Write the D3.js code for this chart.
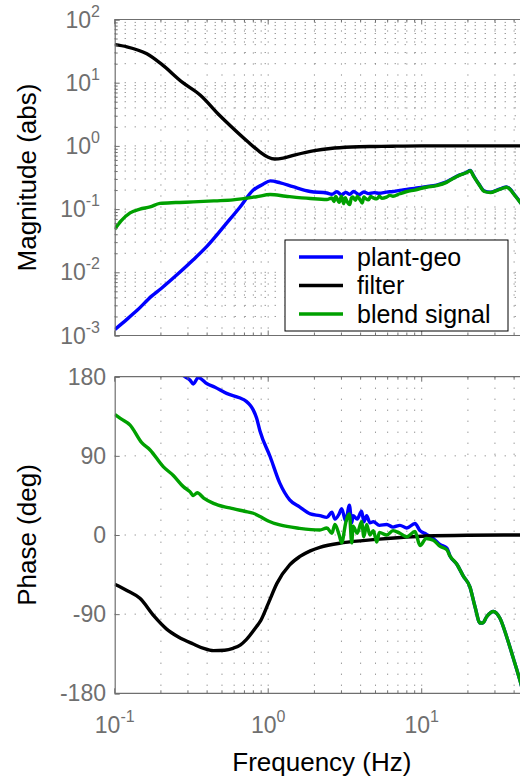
<!DOCTYPE html>
<html>
<head>
<meta charset="utf-8">
<script src="https://cdn.jsdelivr.net/npm/d3@7"></script>
<style>
body { margin: 0; background: #fff; }
svg { display: block; font-family: "Liberation Sans", Arial, sans-serif; }
</style>
</head>
<body>
<svg id="chart" width="520" height="778"></svg>
<script>
// ---- data ----
var seriesNames = ["plant-geo", "filter", "blend signal"];
var seriesColors = ["#0000ff", "#000000", "#00a000"];

var plantMagFreq = [0.1,0.12,0.14,0.174,0.2,0.25,0.325,0.4,0.536,0.65,0.8,0.92,1.03,1.2,1.45,1.88,2.41,2.6,2.8,3.0,3.2,3.4,3.6,3.9,4.2,4.5,4.9,5.3,5.9,6.5,7.2,8.0,9.0,10.7,12.5,14.5,16,17.7,19.5,20.7,21.8,23.5,25.6,28,31,33.5,35.7,38,40,43.6,46];
var plantMag = [0.00124,0.0018,0.0025,0.0042,0.0055,0.0088,0.0158,0.026,0.060,0.105,0.20,0.245,0.28,0.26,0.226,0.19,0.18,0.172,0.188,0.168,0.184,0.172,0.19,0.17,0.186,0.176,0.182,0.178,0.186,0.19,0.198,0.205,0.213,0.226,0.24,0.27,0.308,0.348,0.38,0.41,0.335,0.252,0.192,0.185,0.2,0.215,0.225,0.202,0.172,0.131,0.11];

var filterMagFreq = [0.1,0.12,0.162,0.2,0.278,0.36,0.485,0.56,0.75,0.885,1.0,1.1,1.25,1.5,2.0,2.54,3.5,5,6.5,10,20,50];
var filterMag = [40,37,28.6,20,10,6.4,3.0,2.14,1.12,0.8,0.66,0.62,0.64,0.72,0.84,0.91,0.96,0.98,0.99,1.0,1.0,1.0];

var blendMagFreq = [0.1,0.11,0.126,0.146,0.17,0.197,0.25,0.325,0.45,0.59,0.84,1.03,1.3,1.88,2.41,2.6,2.68,2.75,2.9,3.0,3.1,3.18,3.25,3.4,3.48,3.55,3.7,3.8,3.9,4.1,4.2,4.3,4.5,4.65,4.8,5.1,5.3,5.5,5.9,6.2,6.5,7.2,8.0,9.0,10.7,12.5,14.5,16,17.7,19.5,20.7,21.8,23.5,25.6,28,31,33.5,35.7,38,40,43.6,46];
var blendMag = [0.048,0.065,0.087,0.10,0.108,0.123,0.127,0.13,0.135,0.14,0.157,0.17,0.16,0.147,0.142,0.15,0.132,0.158,0.128,0.16,0.122,0.152,0.135,0.118,0.15,0.155,0.138,0.158,0.15,0.125,0.155,0.148,0.14,0.158,0.152,0.145,0.16,0.148,0.155,0.165,0.16,0.175,0.19,0.2,0.222,0.236,0.265,0.305,0.345,0.375,0.405,0.33,0.25,0.19,0.183,0.198,0.213,0.222,0.2,0.17,0.13,0.11];

var plantPhaseFreq = [0.27,0.287,0.31,0.325,0.35,0.4,0.45,0.536,0.65,0.72,0.768,0.8,0.84,0.885,1.03,1.19,1.38,1.6,1.88,2.17,2.41,2.6,2.72,2.9,3.01,3.2,3.38,3.5,3.57,3.8,4.06,4.2,4.38,4.6,4.84,5.3,5.92,6.5,7.22,8.0,9.04,9.75,10.7,11.9,13.2,14.6,15.3,16.9,18.7,20.6,22.2,24.0,25,26.5,29.3,32.4,35.8,39.5,43.6,46];
var plantPhase = [184,180,176,171.7,179,172,168,161,156,152,147,142,133,118,89,59,40,32,24,22,20,26,18,24,30,16,34,14,22,18,27,15,22,14,15,11,12,9,11,8,13,5,1,-4,-11,-15,-24,-33,-47,-59,-81,-100,-100,-93,-87,-95,-116,-140,-165,-180];

var filterPhaseFreq = [0.1,0.12,0.146,0.18,0.218,0.26,0.325,0.38,0.44,0.52,0.59,0.66,0.72,0.84,0.885,1.0,1.14,1.38,1.6,1.88,2.17,3.08,5.1,10.7,20,50];
var filterPhase = [-56,-63,-72,-92,-107,-116,-124,-129,-131.5,-131,-128.8,-125,-119,-104,-98.6,-78,-55,-34,-24.7,-18,-14,-8.7,-5,-1.1,-0.3,0];

var blendPhaseFreq = [0.1,0.11,0.126,0.15,0.17,0.207,0.24,0.28,0.31,0.325,0.345,0.38,0.44,0.52,0.59,0.7,0.8,0.885,1.0,1.19,1.6,2.17,2.41,2.6,2.72,2.9,3.01,3.2,3.38,3.5,3.57,3.8,4.06,4.2,4.38,4.6,4.84,5.1,5.3,5.92,6.5,7.22,8.0,9.04,9.75,10.7,11.9,13.2,14.6,15.3,16.9,18.7,20.6,22.2,24.0,25,26.5,29.3,32.4,35.8,39.5,43.6,46];
var blendPhase = [137,132,125,105,96.7,77.7,68,55,49,45,48,42,36,32,30,27,24.7,21,16,11.4,7.6,5.7,8,2,12,0,-9,14,24,-9,10,2,15,-2,12,0,5,-8,3,0,5,2,-2,4,-12,-4,-6,-13,-17,-24,-33,-47,-59,-81,-100,-100,-93,-87,-95,-116,-140,-165,-180];

var magTicks = [1e-3, 1e-2, 1e-1, 1e0, 1e1, 1e2];
var phaseTicks = [-180, -90, 0, 90, 180];
var freqTicks = [0.1, 1, 10];

// ---- layout ----
var axisGray = "#6f6f6f";
var gridGray = "#707070";
var left = 114.7, right = 529;
var magTop = 19.5, magBottom = 335.5;
var phTop = 376.7, phBottom = 693.3;

var svg = d3.select("#chart");

var x = d3.scaleLog().domain([0.1, 50]).range([left, right]);
var yMag = d3.scaleLog().domain([1e-3, 1e2]).range([magBottom, magTop]);
var yPh = d3.scaleLinear().domain([-180, 180]).range([phBottom, phTop]);

function pairs (f, v) { return f.map(function (d, i) { return [d, v[i]]; }); }

function exponent (d) { return Math.round(Math.log10(d)); }

function drawPanel (id, y, top, bottom, hGrid, series) {
	var g = svg.append("g").attr("id", id);

	g.append("clipPath").attr("id", id + "-clip")
		.append("rect")
		.attr("x", left).attr("y", top)
		.attr("width", right - left).attr("height", bottom - top);

	// vertical grid: every log tick
	g.append("g").selectAll("line")
		.data(x.ticks().filter(function (d) { return d > 0.1; }))
		.join("line")
		.attr("x1", function (d) { return x(d); })
		.attr("x2", function (d) { return x(d); })
		.attr("y1", top).attr("y2", bottom)
		.attr("stroke", gridGray).attr("stroke-width", 1)
		.attr("stroke-dasharray", "1,10");

	// horizontal grid
	g.append("g").selectAll("line")
		.data(hGrid)
		.join("line")
		.attr("x1", left).attr("x2", right)
		.attr("y1", function (d) { return y(d); })
		.attr("y2", function (d) { return y(d); })
		.attr("stroke", gridGray).attr("stroke-width", 1)
		.attr("stroke-dasharray", "1,9");

	var line = d3.line()
		.x(function (d) { return x(d[0]); })
		.y(function (d) { return y(d[1]); })
		.curve(d3.curveMonotoneX);

	g.append("g").attr("clip-path", "url(#" + id + "-clip)")
		.selectAll("path")
		.data(series)
		.join("path")
		.attr("d", function (d) { return line(d.values); })
		.attr("fill", "none")
		.attr("stroke", function (d) { return d.color; })
		.attr("stroke-width", 3.4)
		.attr("stroke-linejoin", "round");

	// axes lines with inward ticks
	var major = x.ticks().filter(function (d) { return freqTicks.indexOf(d) >= 0; });
	var minor = x.ticks().filter(function (d) { return freqTicks.indexOf(d) < 0; });

	[[bottom, -1], [top, 1]].forEach(function (p) {
		var a = g.append("g").attr("stroke", axisGray);
		a.append("line").attr("x1", left).attr("x2", right)
			.attr("y1", p[0]).attr("y2", p[0]).attr("stroke-width", 1.2);
		a.selectAll(".mj").data(major).join("line")
			.attr("x1", function (d) { return x(d); }).attr("x2", function (d) { return x(d); })
			.attr("y1", p[0]).attr("y2", p[0] + p[1] * 5);
		a.selectAll(".mn").data(minor).join("line")
			.attr("x1", function (d) { return x(d); }).attr("x2", function (d) { return x(d); })
			.attr("y1", p[0]).attr("y2", p[0] + p[1] * 3);
	});

	var yAxis = d3.axisLeft(y).tickSize(-5).tickFormat("");
	if (y === yMag) yAxis.tickValues(y.ticks());
	else yAxis.tickValues(phaseTicks);
	g.append("g").attr("transform", "translate(" + left + ",0)")
		.call(yAxis)
		.call(function (s) {
			s.select(".domain").attr("stroke", axisGray).attr("stroke-width", 1.2);
			s.selectAll(".tick line").attr("stroke", axisGray)
				.attr("x2", function (d) { return (y === yMag && magTicks.indexOf(d) < 0) ? 3 : 5; });
		});
	return g;
}

var magPanel = drawPanel("mag", yMag, magTop, magBottom, yMag.ticks(), [
	{ color: seriesColors[0], values: pairs(plantMagFreq, plantMag) },
	{ color: seriesColors[1], values: pairs(filterMagFreq, filterMag) },
	{ color: seriesColors[2], values: pairs(blendMagFreq, blendMag) }
]);

var phPanel = drawPanel("phase", yPh, phTop, phBottom, [-90, 0, 90], [
	{ color: seriesColors[0], values: pairs(plantPhaseFreq, plantPhase) },
	{ color: seriesColors[1], values: pairs(filterPhaseFreq, filterPhase) },
	{ color: seriesColors[2], values: pairs(blendPhaseFreq, blendPhase) }
]);

// magnitude tick labels 10^n
var magLab = svg.append("g").attr("fill", axisGray).attr("text-anchor", "end");
magTicks.forEach(function (d) {
	var t = magLab.append("text")
		.attr("x", 100).attr("y", yMag(d) + 8)
		.style("font-size", "23px");
	t.append("tspan").text("10");
	t.append("tspan").attr("dy", -11).style("font-size", "16px").text(exponent(d));
});

// phase tick labels
svg.append("g").attr("fill", axisGray).attr("text-anchor", "end")
	.selectAll("text").data(phaseTicks).join("text")
	.attr("x", 106).attr("y", function (d) { return yPh(d) + 8; })
	.style("font-size", "23px")
	.text(function (d) { return d; });

// frequency tick labels
var fLab = svg.append("g").attr("fill", axisGray).attr("text-anchor", "middle");
freqTicks.forEach(function (d) {
	var t = fLab.append("text")
		.attr("x", x(d)).attr("y", 733)
		.style("font-size", "23px");
	t.append("tspan").text("10");
	t.append("tspan").attr("dy", -11).style("font-size", "16px").text(exponent(d));
});

// axis titles
svg.append("text")
	.attr("transform", "translate(36," + (magTop + magBottom) / 2 + ") rotate(-90)")
	.attr("text-anchor", "middle").style("font-size", "26px").attr("fill", "#000")
	.text("Magnitude (abs)");
svg.append("text")
	.attr("transform", "translate(36," + (phTop + phBottom) / 2 + ") rotate(-90)")
	.attr("text-anchor", "middle").style("font-size", "26px").attr("fill", "#000")
	.text("Phase (deg)");
svg.append("text")
	.attr("x", (left + right) / 2).attr("y", 771)
	.attr("text-anchor", "middle").style("font-size", "26px").attr("fill", "#000")
	.text("Frequency (Hz)");

// legend
var legend = svg.append("g").attr("transform", "translate(285,240)");
legend.append("rect").attr("width", 223).attr("height", 91)
	.attr("fill", "#fff").attr("stroke", "#000").attr("stroke-width", 1);
var rows = legend.selectAll("g").data(seriesNames).join("g")
	.attr("transform", function (d, i) { return "translate(0," + (17 + i * 28.5) + ")"; });
rows.append("line").attr("x1", 14).attr("x2", 58)
	.attr("stroke", function (d, i) { return seriesColors[i]; }).attr("stroke-width", 3.6);
rows.append("text").attr("x", 72).attr("y", 8.5)
	.style("font-size", "25px").attr("fill", "#000")
	.text(function (d) { return d; });
</script>
</body>
</html>
